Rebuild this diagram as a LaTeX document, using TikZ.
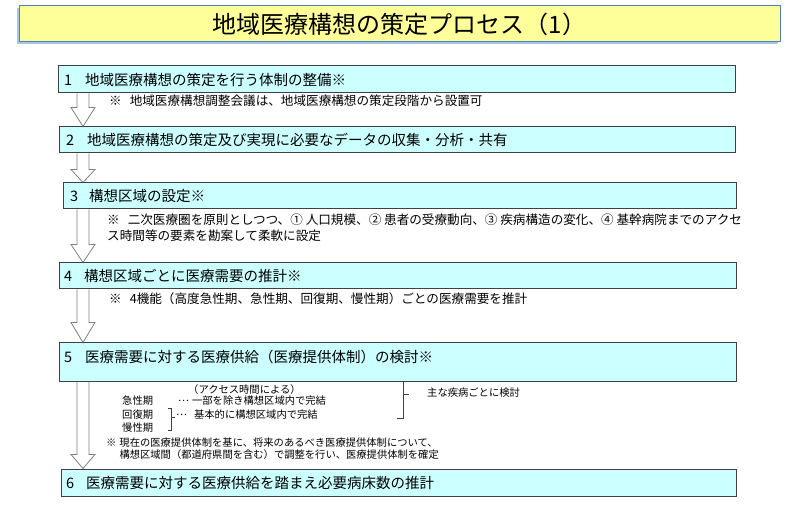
\documentclass[tikz,border=0pt]{standalone}
\usepackage{fontspec}
\setmainfont{Noto Sans CJK JP}
\usetikzlibrary{calc,shadows,backgrounds}
\definecolor{boxfill}{HTML}{CCFFFF}
\definecolor{boxline}{HTML}{404040}
\definecolor{titlefill}{HTML}{FFFF99}
\definecolor{titleline}{HTML}{4F81BD}
\definecolor{titleshadow}{HTML}{A9C4E4}
\definecolor{arrowline}{HTML}{7F7F7F}
\newcommand\blockarrow[3]{%
  \draw[barrow] let \p1=(#1.south), \p2=(#2.north) in
    (77pt,\y1) -- (77pt,\y2+#3pt) -- (71pt,\y2+#3pt) -- (83pt,\y2)
    -- (95pt,\y2+#3pt) -- (89pt,\y2+#3pt) -- (89pt,\y1);}
\newcommand\midellip{\raisebox{3.2pt}{…}}
\begin{document}
\begin{tikzpicture}[x=1pt,y=-1pt,
  titlebox/.style={draw=titleline, fill=titlefill, line width=1pt, inner sep=0pt,
    drop shadow={shadow xshift=-2pt, shadow yshift=-2pt, fill=titleshadow, opacity=1},
    font=\fontsize{24}{27}\selectfont},
  stepbox/.style={draw=boxline, fill=boxfill, line width=1pt, inner sep=0pt},
  lbl/.style={anchor=west, inner sep=0pt, font=\fontsize{14.5}{17}\selectfont},
  note/.style={anchor=west, inner sep=0pt, align=left, font=\fontsize{12.6}{15.5}\selectfont},
  small/.style={anchor=west, inner sep=0pt, align=left, font=\fontsize{10.3}{11.5}\selectfont},
  barrow/.style={draw=arrowline, fill=white, line width=0.8pt, line join=miter},
  brk/.style={draw=black!75, line width=0.7pt}]
\useasboundingbox (0,0) rectangle (800,510);

% title
\node[titlebox, minimum width=761, minimum height=36] (title) at (399.5,24) {地域医療構想の策定プロセス（1）};

% step boxes
\node[stepbox, minimum width=677, minimum height=27] (b1) at (396.5,79.5) {};
\node[stepbox, minimum width=676, minimum height=26] (b2) at (397,140) {};
\node[stepbox, minimum width=673, minimum height=26] (b3) at (399.5,196) {};
\node[stepbox, minimum width=677, minimum height=26] (b4) at (397.5,276) {};
\node[stepbox, minimum width=677, minimum height=38] (b5) at (397.5,362) {};
\node[stepbox, minimum width=675, minimum height=27] (b6) at (398.5,482.5) {};

% arrows
\begin{scope}[on background layer]
\blockarrow{b1}{b2}{19}
\blockarrow{b2}{b3}{13}
\blockarrow{b3}{b4}{18}
\blockarrow{b4}{b5}{20}
\blockarrow{b5}{b6}{14}
\end{scope}

% box labels
\node[lbl] (l1) at (64,80) {1\hspace{13pt}地域医療構想の策定を行う体制の整備※};
\node[lbl] (l2) at (66,140) {2\hspace{13pt}地域医療構想の策定及び実現に必要なデータの収集・分析・共有};
\node[lbl] (l3) at (70,196) {3\hspace{11pt}構想区域の設定※};
\node[lbl] (l4) at (64,276) {4\hspace{12pt}構想区域ごとに医療需要の推計※};
\node[lbl] (l5) at (64,357) {5\hspace{13pt}医療需要に対する医療供給（医療提供体制）の検討※};
\node[lbl] (l6) at (66,483) {6\hspace{12pt}医療需要に対する医療供給を踏まえ必要病床数の推計};

% notes
\node[note] (n1) at (109,101) {※\hspace{8pt}地域医療構想調整会議は、地域医療構想の策定段階から設置可};
\node[note] (n3) at (107,227.5) {※\hspace{8pt}二次医療圏を原則としつつ、① 人口規模、② 患者の受療動向、③ 疾病構造の変化、④ 基幹病院までのアクセ\\ス時間等の要素を勘案して柔軟に設定};
\node[note] (n4) at (109,299) {※\hspace{8pt}4機能（高度急性期、急性期、回復期、慢性期）ごとの医療需要を推計};

% section 5 details
\node[small] (acc) at (188,390) {（アクセス時間による）};
\node[small] (k1) at (122,401) {急性期};
\node[small] (k2) at (122,415) {回復期};
\node[small] (k3) at (122,428) {慢性期};
\node[small] (d1) at (178,401) {\midellip\hspace{3pt}一部を除き構想区域内で完結};
\node[small] (d2) at (176,415) {\midellip\hspace{7pt}基本的に構想区域内で完結};
\node[small] (shu) at (427,393) {主な疾病ごとに検討};
\node[small] (f1) at (106,448.5) {※\hspace{3pt}現在の医療提供体制を基に、将来のあるべき医療提供体制について、\\\hspace{13.3pt}構想区域間（都道府県間を含む）で調整を行い、医療提供体制を確定};

% brackets
\draw[brk] (168,408) -- (171,408) -- (171,430) -- (168,430);
\draw[brk] (171,417) -- (175,417);
\draw[brk] (403,382) -- (403,418) -- (397,418);
\draw[brk] (403,394) -- (409,394);
\end{tikzpicture}
\end{document}
